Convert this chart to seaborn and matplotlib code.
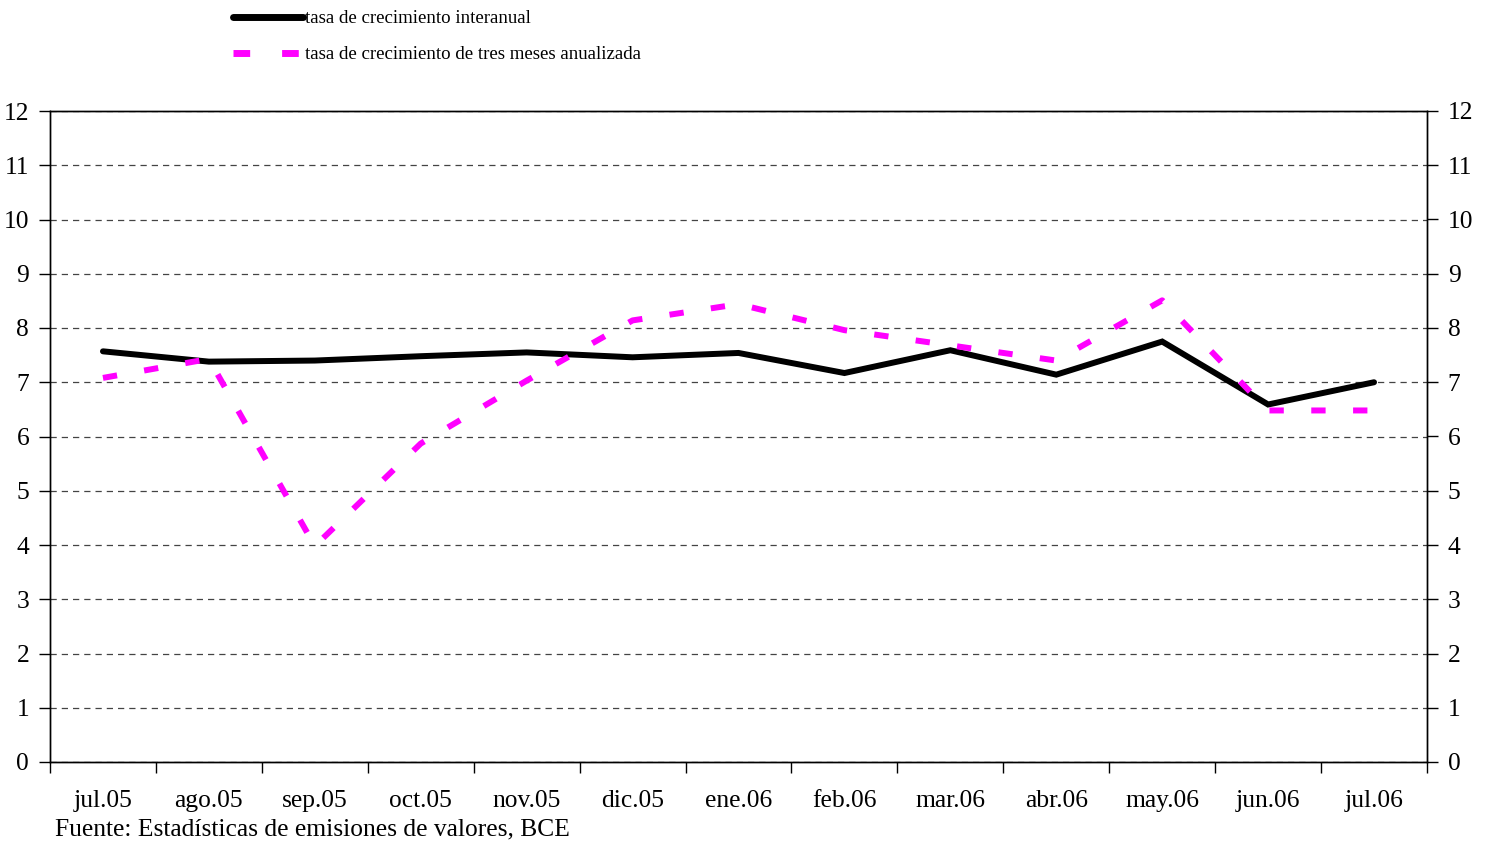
import matplotlib
matplotlib.use("Agg")
import matplotlib.pyplot as plt
import seaborn as sns
import pandas as pd
import numpy as np
from matplotlib.ticker import FixedLocator

months = ["jul.05", "ago.05", "sep.05", "oct.05", "nov.05", "dic.05", "ene.06",
          "feb.06", "mar.06", "abr.06", "may.06", "jun.06", "jul.06"]
interanual = [7.57, 7.38, 7.40, 7.48, 7.55, 7.46, 7.54, 7.17, 7.59, 7.14, 7.75, 6.59, 7.00]
tres_meses = [7.08, 7.43, 3.98, 5.87, 7.03, 8.14, 8.44, 7.96, 7.68, 7.40, 8.51, 6.48, 6.48]
label_a = "tasa de crecimiento interanual"
label_b = "tasa de crecimiento de tres meses anualizada"
yticks = list(range(0, 13))

sns.set_theme(style="white")
plt.rcParams['font.family'] = ['Liberation Serif', 'DejaVu Serif']
plt.rcParams['text.color'] = 'black'

fig = plt.figure(figsize=(14.88, 8.43), dpi=100)
ax = fig.add_axes([50/1488, 1-762/843, (1427-50)/1488, (762-111)/843])

df = pd.DataFrame({"mes": months, "a": interanual, "b": tres_meses})

sns.lineplot(data=df, x="mes", y="a", ax=ax, color="black", linewidth=4.3,
             label=label_a, sort=False, solid_capstyle="round", solid_joinstyle="miter")
sns.lineplot(data=df, x="mes", y="b", ax=ax, color="#FF00FF", linewidth=4.3,
             label=label_b, sort=False, dashes=False)
ax.lines[1].set_dashes([2.4, 4.6])
ax.lines[1].set_dash_capstyle("butt")

ax.set_xlim(-0.5, 12.5)
ax.set_ylim(0, 12)
ax.set_xlabel("")
ax.set_ylabel("")

FS = 18.4
ax.set_yticks(yticks)
ax.yaxis.grid(True, color="#444444", linestyle=(0, (5, 4)), linewidth=0.9)
ax.xaxis.grid(False)
ax.tick_params(axis="y", which="major", direction="out", length=8, width=1,
               labelsize=FS, colors="black", left=True, pad=7)
ax.set_xticks(range(len(months)))
ax.set_xticklabels(months)
ax.xaxis.set_minor_locator(FixedLocator(np.arange(-0.5, 13, 1.0)))
ax.tick_params(axis="x", which="major", length=0, labelsize=FS, pad=20.5, colors="black")
ax.tick_params(axis="x", which="minor", direction="out", length=8, width=1,
               bottom=True, color="black")
for s in ax.spines.values():
    s.set_color("black")
    s.set_linewidth(1)

ax2 = ax.twinx()
ax2.set_ylim(0, 12)
ax2.set_yticks(yticks)
ax2.tick_params(axis="y", direction="out", length=8, width=1, labelsize=FS,
                colors="black", right=True, pad=7)
ax2.grid(False)
for s in ax2.spines.values():
    s.set_color("black")
    s.set_linewidth(1)

handles, labels = ax.get_legend_handles_labels()
ax.get_legend().remove()
leg = fig.legend(handles, labels, loc="upper left", bbox_to_anchor=(233/1488, 1-10/843),
                 frameon=False, fontsize=13.6, handlelength=3.7, handletextpad=0.12,
                 labelspacing=1.0, borderpad=0, borderaxespad=0, labelcolor="black")
for h in leg.legend_handles:
    h.set_linewidth(5)

fig.text(55/1488, 1-829/843, "Fuente: Estadísticas de emisiones de valores, BCE",
         fontsize=FS, va="center", ha="left", color="black")

fig.savefig("out.png", dpi=100)
